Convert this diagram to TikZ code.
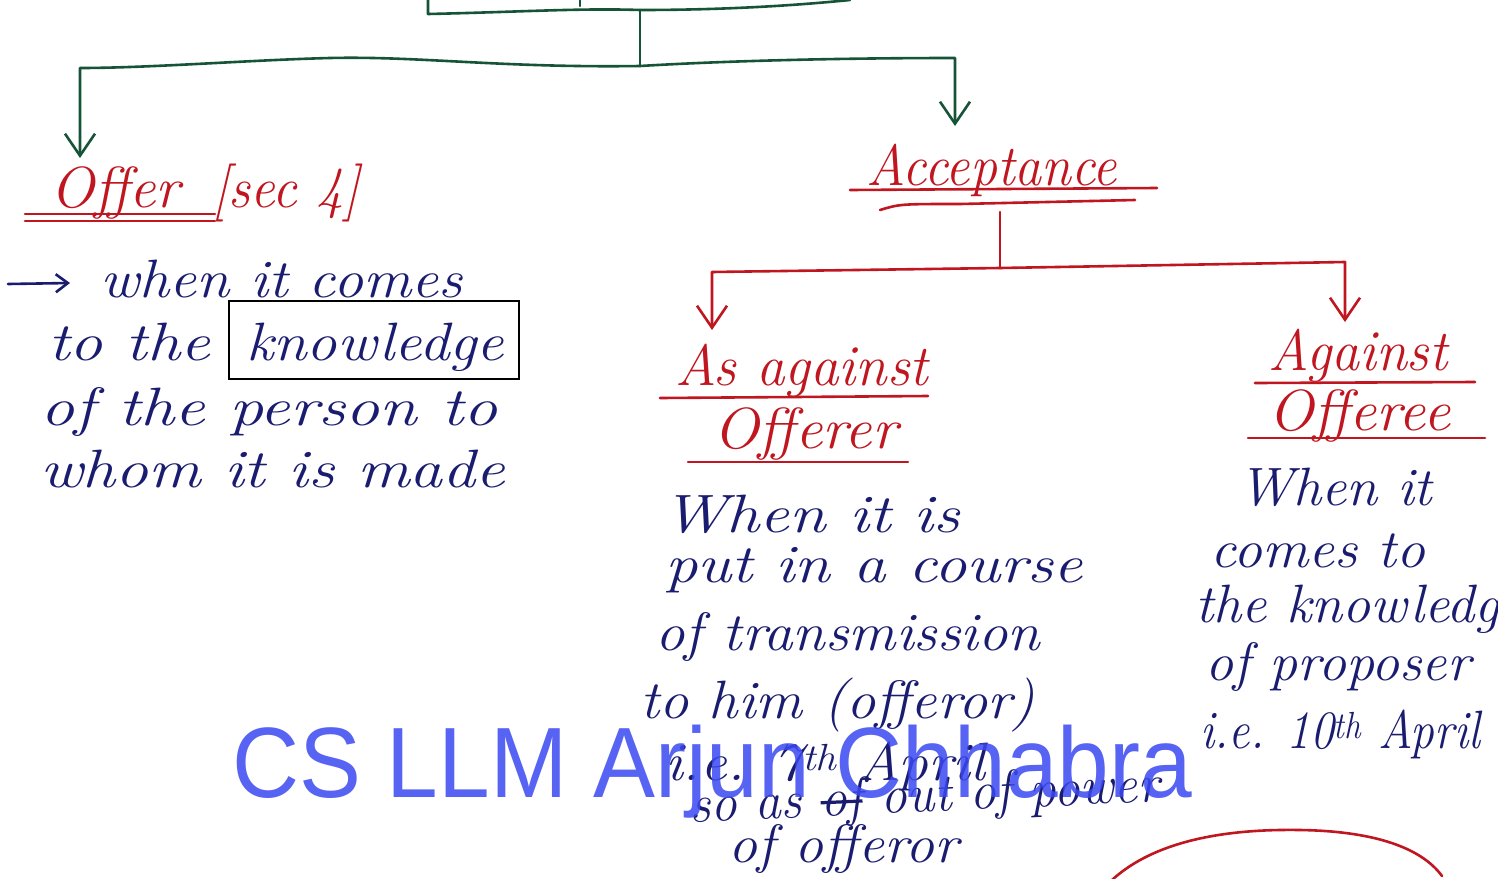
\documentclass[tikz,border=0pt]{standalone}
\usepackage{fontspec}
\usepackage{graphicx}
\newfontfamily\wmfont{Liberation Sans}
\usetikzlibrary{arrows.meta}

\definecolor{inkred}{RGB}{192,22,32}
\definecolor{inkblue}{RGB}{26,28,112}
\definecolor{inkgreen}{RGB}{22,84,56}
\definecolor{wmblue}{RGB}{58,72,240}

% stretch a line of writing to a given width, keeping its height
\newcommand{\fitw}[2]{\resizebox{#1pt}{\height}{#2}}
% a word crossed out by hand
\newcommand{\strk}[1]{\setbox0\hbox{#1}\rlap{#1}\rule[0.22em]{\wd0}{0.06em}}

\tikzset{
  hand/.style={inner sep=0pt, anchor=base west, text=inkblue,
               font=\itshape\fontsize{54}{58}\selectfont},
  head/.style={hand, text=inkred, font=\itshape\fontsize{58}{62}\selectfont},
  pen/.style={line width=2.6pt, line cap=round, line join=round},
  greenline/.style={pen, draw=inkgreen},
  redline/.style={pen, draw=inkred},
  blueline/.style={pen, draw=inkblue},
  barb/.style={-{Straight Barb[length=22pt,width=30pt]}},
  smallbarb/.style={-{Straight Barb[length=12pt,width=18pt]}},
  watermark/.style={inner sep=0pt, anchor=base west, text=wmblue, text opacity=0.85,
                    font=\wmfont\fontsize{100}{104}\selectfont}
}

\begin{document}
\begin{tikzpicture}[x=1pt,y=-1pt]
\fill[white] (0,0) rectangle (1498,878);
\useasboundingbox (0,0) rectangle (1498,878);

% ---- top box and green split ----
\coordinate (boxTL) at (428,0);
\coordinate (boxBL) at (428,14);
\coordinate (boxBR) at (850,0);
\coordinate (boxOut) at (640,10);
\coordinate (split) at (640,66);
\coordinate (splitL) at (80,68);
\coordinate (splitR) at (955,58);
\coordinate (tipOffer) at (80,158);
\coordinate (tipAcc) at (955,126);
\draw[greenline] (boxTL) -- (boxBL) .. controls (520,12) and (580,8) .. (boxOut)
      .. controls (720,10) and (790,6) .. (boxBR);
\draw[greenline] (580,0) -- (580,6);
\draw[greenline] (boxOut) -- (split);
\draw[greenline, barb] (split) .. controls (500,68) and (420,56) .. (330,58)
      .. controls (250,60) and (150,68) .. (splitL) -- (tipOffer);
\draw[greenline, barb] (split) .. controls (740,60) and (860,58) .. (splitR) -- (tipAcc);

% ---- Offer ----
\node[head] (offer) at (50,207) {\fitw{130}{Offer}};
\node[head] (sec) at (212,207) {\fitw{148}{[sec 4]}};
\draw[redline] (25,214) -- (215,214);
\draw[redline] (25,221) -- (215,221);

\coordinate (bulS) at (8,284);
\coordinate (bulE) at (70,283);
\draw[blueline, smallbarb] (bulS) -- (bulE);
\node[hand] (o1) at (100,297) {\fitw{362}{when it comes}};
\node[hand] (o2a) at (48,360) {\fitw{162}{to the}};
\node[hand] (o2b) at (246,360) {\fitw{258}{knowledge}};
\node[draw=black, line width=2pt, inner sep=0pt, anchor=north west,
      minimum width=290pt, minimum height=78pt] (kbox) at (228,300) {};
\node[hand] (o3) at (40,425) {\fitw{457}{of the person to}};
\node[hand] (o4) at (40,487) {\fitw{465}{whom it is made}};

% ---- Acceptance ----
\node[head] (acc) at (866,185) {\fitw{251}{Acceptance}};
\draw[redline] (850,190) -- (1157,188);
\draw[redline] (880,210) .. controls (900,204) .. (960,204) -- (1135,200);

\coordinate (accBot) at (1000,212);
\coordinate (rsplit) at (1000,268);
\coordinate (rsL) at (712,272);
\coordinate (rsR) at (1345,262);
\coordinate (tipA) at (712,330);
\coordinate (tipB) at (1345,322);
\draw[redline] (accBot) -- (rsplit);
\draw[redline, barb] (rsplit) -- (rsL) -- (tipA);
\draw[redline, barb] (rsplit) -- (rsR) -- (tipB);

% ---- As against offerer ----
\node[head] (asag) at (675,385) {\fitw{253}{As against}};
\draw[redline] (660,398) -- (928,396);
\node[head] (offerer) at (713,448) {\fitw{184}{Offerer}};
\draw[redline] (688,462) -- (908,462);

\node[hand] (a1) at (662,532) {\fitw{298}{When it is}};
\node[hand] (a2) at (665,582) {\fitw{417}{put in a course}};
\node[hand] (a3) at (655,650) {\fitw{385}{of transmission}};
\node[hand] (a4) at (640,718) {\fitw{395}{to him (offeror)}};
\node[hand] (a5) at (665,780) {\fitw{320}{i.e. 7\textsuperscript{th} April}};
\node[hand, rotate=2.5] (a6) at (690,822) {\fitw{470}{so as \strk{of} out of power}};
\node[hand] (a7) at (728,862) {\fitw{230}{of offeror}};

% ---- Against offeree ----
\node[head] (agst) at (1268,370) {\fitw{179}{Against}};
\draw[redline] (1255,383) -- (1475,382);
\node[head] (offeree) at (1268,430) {\fitw{182}{Offeree}};
\draw[redline] (1248,438) -- (1485,438);

\node[hand] (b1) at (1238,505) {\fitw{194}{When it}};
\node[hand] (b2) at (1210,567) {\fitw{215}{comes to}};
\node[hand] (b3) at (1195,622) {\fitw{330}{the knowledge}};
\node[hand] (b4) at (1205,680) {\fitw{265}{of proposer}};
\node[hand] (b5) at (1200,748) {\fitw{280}{i.e. 10\textsuperscript{th} April}};

% ---- red loop at the foot ----
\coordinate (loopL) at (1112,880);
\coordinate (loopT) at (1300,830);
\coordinate (loopR) at (1442,876);
\draw[redline] (loopL) .. controls (1160,836) and (1240,829) .. (loopT)
      .. controls (1370,831) and (1420,846) .. (loopR);

% ---- watermark ----
\node[watermark] (wm) at (232,797) {\fitw{960}{CS LLM Arjun Chhabra}};
\end{tikzpicture}
\end{document}
